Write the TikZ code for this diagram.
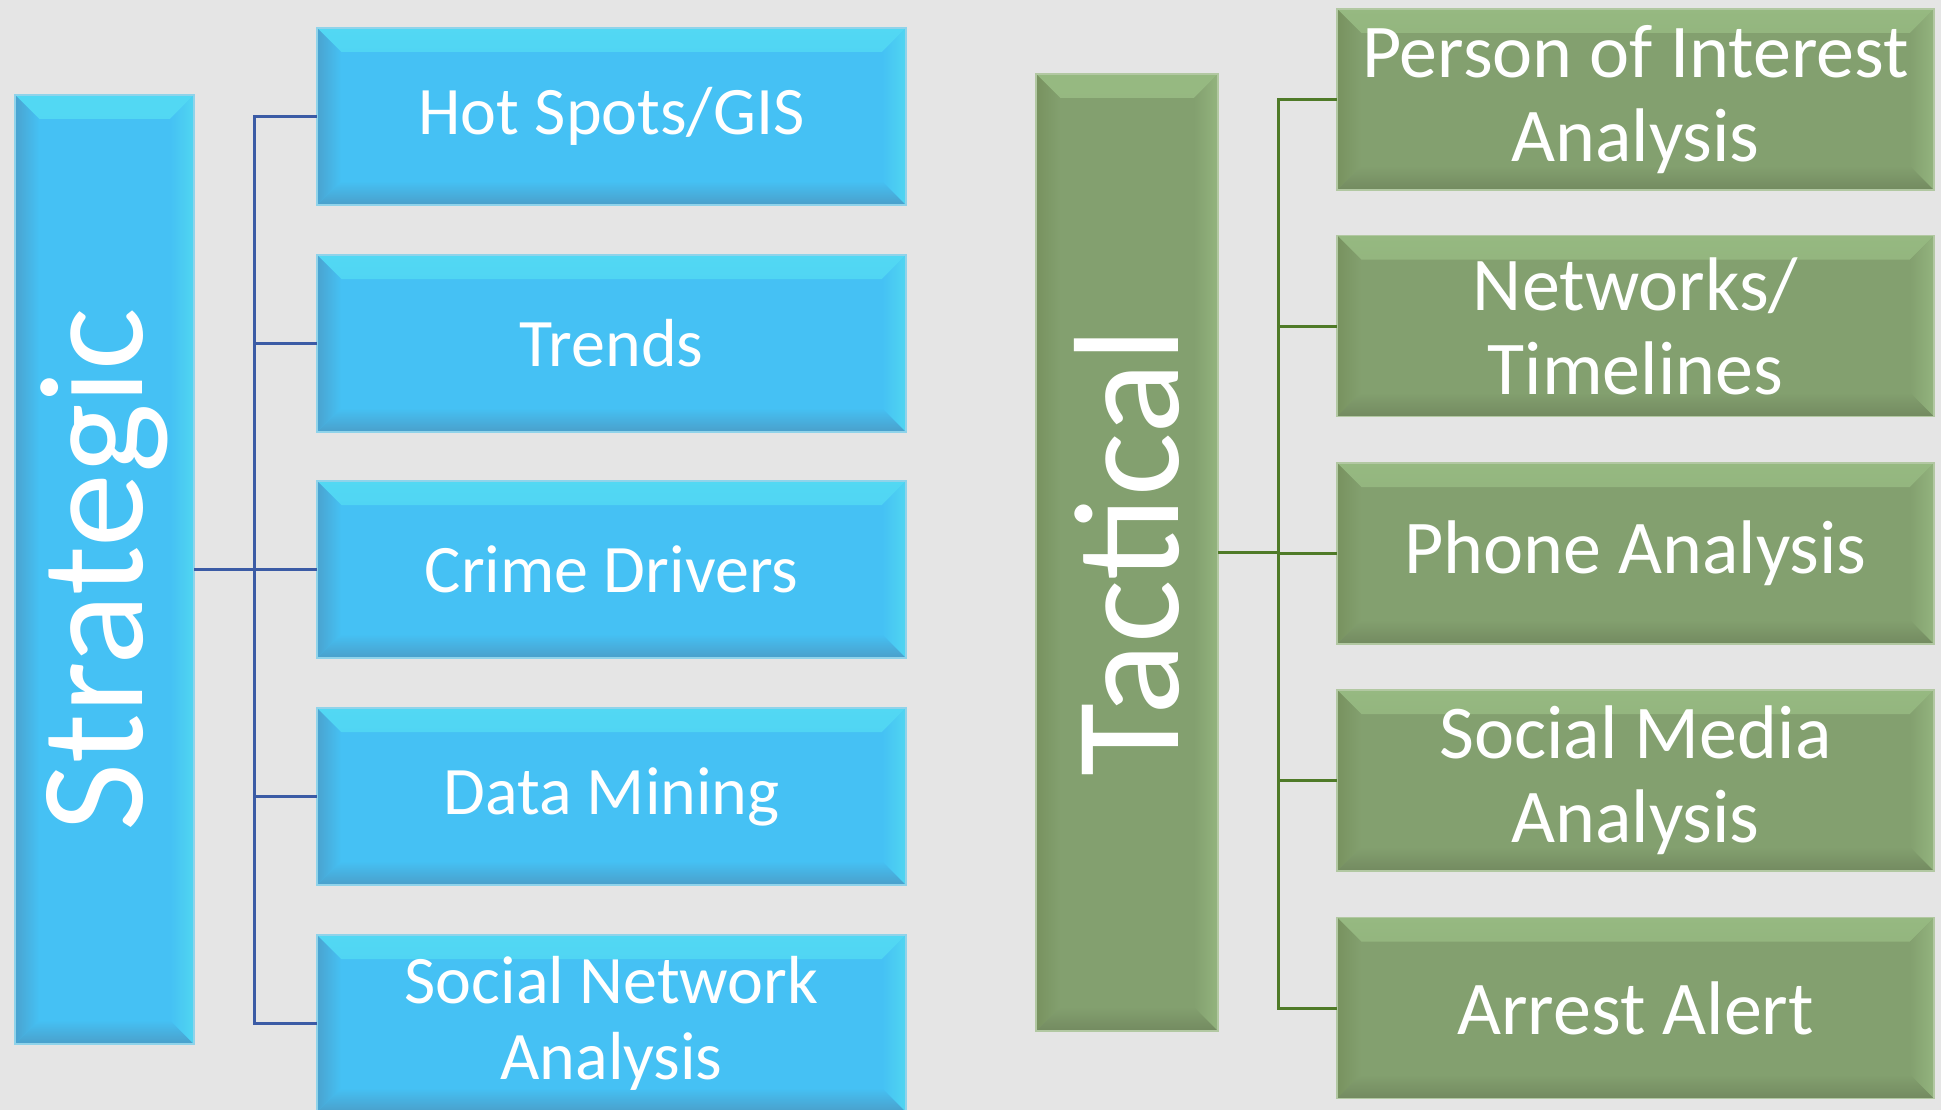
\documentclass[tikz,border=0pt]{standalone}
\usepackage{fontspec}
\setmainfont{Carlito}
\usepackage{graphicx}
\definecolor{bgc}{HTML}{E5E5E5}
\definecolor{bmain}{HTML}{45C1F4}
\definecolor{btop}{HTML}{52D8F3}
\definecolor{bleft}{HTML}{4AA3CF}
\definecolor{bbot}{HTML}{4A9FCA}
\definecolor{bright}{HTML}{50D6F1}
\definecolor{bedge}{HTML}{8FD3EA}
\definecolor{bline}{HTML}{3B5BA5}
\definecolor{gmain}{HTML}{83A06F}
\definecolor{gtop}{HTML}{96B981}
\definecolor{gleft}{HTML}{78925F}
\definecolor{gbot}{HTML}{738A60}
\definecolor{gright}{HTML}{93B47E}
\definecolor{gedge}{HTML}{B2C8A2}
\definecolor{gline}{HTML}{4F7A28}
\newcommand{\bevpic}[5]{%
 \shade[top color=#2,bottom color=#1] (path picture bounding box.north west) -- (path picture bounding box.north east) -- ([shift={(-24,24)}]path picture bounding box.north east) -- ([shift={(24,24)}]path picture bounding box.north west) -- cycle;
 \shade[left color=#3,right color=#1] (path picture bounding box.north west) -- ([shift={(24,24)}]path picture bounding box.north west) -- ([shift={(24,-24)}]path picture bounding box.south west) -- (path picture bounding box.south west) -- cycle;
 \shade[bottom color=#4,top color=#1] (path picture bounding box.south west) -- ([shift={(24,-24)}]path picture bounding box.south west) -- ([shift={(-24,-24)}]path picture bounding box.south east) -- (path picture bounding box.south east) -- cycle;
 \shade[right color=#5,left color=#1] (path picture bounding box.north east) -- (path picture bounding box.south east) -- ([shift={(-24,-24)}]path picture bounding box.south east) -- ([shift={(-24,24)}]path picture bounding box.north east) -- cycle;
}
\tikzset{
 basebox/.style={rectangle, text=white, align=center, inner sep=0pt, outer sep=0pt, line width=1.5pt},
 bluebox/.style={basebox, fill=bmain, draw=bedge, path picture={\bevpic{bmain}{btop}{bleft}{bbot}{bright}}},
 greenbox/.style={basebox, fill=gmain, draw=gedge, path picture={\bevpic{gmain}{gtop}{gleft}{gbot}{gright}}},
 leftitem/.style={bluebox, minimum width=589pt, minimum height=177pt, font=\fontsize{68}{76}\selectfont},
 rightitem/.style={greenbox, minimum width=597pt, minimum height=181pt, font=\fontsize{76}{84}\selectfont},
 bconn/.style={draw=bline, line width=3pt},
 gconn/.style={draw=gline, line width=3pt},
}
\begin{document}
\begin{tikzpicture}[x=1pt,y=-1pt]
\fill[bgc] (0,0) rectangle (1941,1110);
\useasboundingbox (0,0) rectangle (1941,1110);
% left group
\node[bluebox, minimum width=179pt, minimum height=949pt] (strat) at (104.5,569.5) {\rotatebox{90}{\fontsize{148}{148}\selectfont Strategic}};
\node[leftitem] (l1) at (611.5,116.5) {Hot Spots/GIS};
\node[leftitem] (l2) at (611.5,343.5) {Trends};
\node[leftitem] (l3) at (611.5,569.5) {Crime Drivers};
\node[leftitem] (l4) at (611.5,796.5) {Data Mining};
\node[leftitem] (l5) at (611.5,1023.5) {Social Network\\Analysis};
\coordinate (busL) at (254,0);
\foreach \i in {1,...,5}
  \draw[bconn] (strat.east) -- (strat.east -| busL) |- (l\i.west);
% right group
\node[greenbox, minimum width=182pt, minimum height=957pt] (tact) at (1127,552.5) {\rotatebox{90}{\fontsize{150}{150}\selectfont Tactical}};
\node[rightitem] (r1) at (1635.5,99.5) {Person of Interest\\Analysis};
\node[rightitem] (r2) at (1635.5,326) {Networks/\\Timelines};
\node[rightitem] (r3) at (1635.5,553.5) {Phone Analysis};
\node[rightitem] (r4) at (1635.5,780.5) {Social Media\\Analysis};
\node[rightitem] (r5) at (1635.5,1008) {Arrest Alert};
\coordinate (busR) at (1278,0);
\foreach \i in {1,...,5}
  \draw[gconn] (tact.east) -- (tact.east -| busR) |- (r\i.west);
\end{tikzpicture}
\end{document}
